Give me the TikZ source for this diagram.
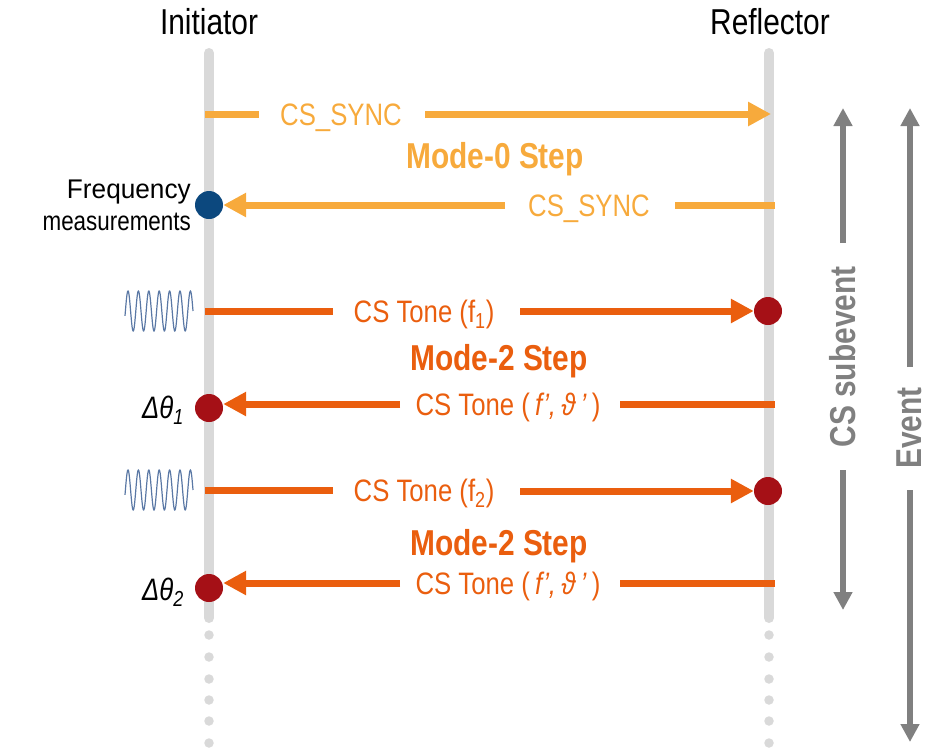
\documentclass[tikz,border=0pt]{standalone}
\usepackage{graphicx}
\usepackage{fontspec}
\setmainfont{Liberation Sans}[FakeStretch=0.83]
\usetikzlibrary{arrows.meta}
\definecolor{lorange}{RGB}{247,170,60}
\definecolor{dorange}{RGB}{234,94,14}
\definecolor{dotred}{RGB}{165,16,22}
\definecolor{dotblue}{RGB}{12,72,126}
\definecolor{lifegray}{RGB}{217,217,217}
\definecolor{arrgray}{RGB}{128,128,128}
\definecolor{wavecol}{RGB}{90,120,165}
\begin{document}
\begin{tikzpicture}[x=1pt,y=-1pt,
  lifeline/.style={draw=lifegray,line width=10pt,line cap=round},
  lifedot/.style={circle,fill=lifegray,inner sep=0pt,minimum size=9.5pt},
  syncline/.style={draw=lorange,line width=7pt},
  toneline/.style={draw=dorange,line width=7pt},
  tipend/.style={-{Triangle[length=23pt,width=23pt]}},
  gtip/.style={-{Triangle[length=18pt,width=18pt]}},
  garrow/.style={draw=arrgray,line width=6pt},
  synctxt/.style={text=lorange,font=\fontsize{31}{36}\selectfont,anchor=base,inner sep=0pt},
  tonetxt/.style={text=dorange,font=\fontsize{31}{36}\selectfont,anchor=base,inner sep=0pt},
  steptxt/.style={font=\bfseries\fontsize{36}{40}\selectfont,anchor=base,inner sep=0pt},
  titletxt/.style={font=\fontsize{36}{40}\selectfont,anchor=base,inner sep=0pt},
  sidetxt/.style={font=\bfseries\fontsize{36}{40}\selectfont,text=arrgray,rotate=90,inner sep=0pt},
  reddot/.style={circle,fill=dotred,inner sep=0pt,minimum size=28pt},
  bluedot/.style={circle,fill=dotblue,inner sep=0pt,minimum size=28pt},
  wave/.style={draw=wavecol,line width=1.2pt},
  lbl/.style={font=\fontsize{31}{34}\selectfont,inner sep=0pt}
]
\useasboundingbox (0,0) rectangle (932,748);

% titles
\node[titletxt] (ini) at (209,34) {Initiator};
\node[titletxt] (ref) at (770,34) {Reflector};

% lifelines
\coordinate (it) at (209,53);
\coordinate (ib) at (209,618);
\coordinate (rt) at (769,53);
\coordinate (rb) at (769,618);
\draw[lifeline] (it) -- (ib);
\draw[lifeline] (rt) -- (rb);
\foreach \yy [count=\k] in {635,657,679,700,721,743}{
  \node[lifedot] (idot\k) at (209,\yy) {};
  \node[lifedot] (rdot\k) at (769,\yy) {};
}

% dots
\node[bluedot] (bd) at (209,205) {};
\node[reddot] (r1) at (768,311) {};
\node[reddot] (d1) at (209,408) {};
\node[reddot] (r2) at (768,491) {};
\node[reddot] (d2) at (209,588) {};

% Mode-0 step
\coordinate (a1s) at (205,114);
\coordinate (a1g) at (259,114);
\coordinate (a1h) at (425,114);
\coordinate (a1e) at (771,114);
\draw[syncline] (a1s) -- (a1g);
\draw[syncline,tipend] (a1h) -- (a1e);
\node[synctxt] (t1) at (341,125) {CS\_SYNC};

\node[steptxt,text=lorange] (m0) at (495,168) {Mode-0 Step};

\coordinate (a3s) at (775,205);
\coordinate (a3g) at (675,205);
\coordinate (a3h) at (505,205);
\draw[syncline] (a3s) -- (a3g);
\draw[syncline,tipend] (a3h) -- (bd.east);
\node[synctxt] (t3) at (589,216) {CS\_SYNC};

\node[font=\fontsize{27}{32}\selectfont,align=right,anchor=east,inner sep=0pt] (fm) at (191,205) {\scalebox{1.17}[1]{Frequency}\\measurements};

% waves
\draw[wave] plot[domain=125:193,samples=240,smooth] (\x,{311-20*cos((\x-128)*34.615)});
\draw[wave] plot[domain=125:193,samples=240,smooth] (\x,{490-20*cos((\x-128)*34.615)});

% Mode-2 step 1
\coordinate (a5s) at (205,311);
\coordinate (a5g) at (333,311);
\coordinate (a5h) at (520,311);
\draw[toneline] (a5s) -- (a5g);
\draw[toneline,tipend] (a5h) -- (r1.west);
\node[tonetxt] (t5) at (424,322) {CS Tone (f\textsubscript{1})};

\node[steptxt,text=dorange] (m2a) at (499,370) {Mode-2 Step};

\coordinate (a7s) at (775,404);
\coordinate (a7g) at (620,404);
\coordinate (a7h) at (400,404);
\draw[toneline] (a7s) -- (a7g);
\draw[toneline,tipend] (a7h) -- (d1.east |- a7h);
\node[tonetxt] (t7) at (508,415) {CS Tone (\,\textit{f’,\,ϑ\,’}\,)};
\node[lbl,anchor=base east] (th1) at (184,418) {\textit{Δθ\textsubscript{1}}};

% Mode-2 step 2
\coordinate (a8s) at (205,490);
\coordinate (a8g) at (333,490);
\coordinate (a8h) at (520,491);
\draw[toneline] (a8s) -- (a8g);
\draw[toneline,tipend] (a8h) -- (r2.west);
\node[tonetxt] (t8) at (424,501) {CS Tone (f\textsubscript{2})};

\node[steptxt,text=dorange] (m2b) at (499,555) {Mode-2 Step};

\coordinate (a10s) at (775,583);
\coordinate (a10g) at (620,583);
\coordinate (a10h) at (400,583);
\draw[toneline] (a10s) -- (a10g);
\draw[toneline,tipend] (a10h) -- (d2.east |- a10h);
\node[tonetxt] (t10) at (508,594) {CS Tone (\,\textit{f’,\,ϑ\,’}\,)};
\node[lbl,anchor=base east] (th2) at (184,600) {\textit{Δθ\textsubscript{2}}};

% side arrows
\node[sidetxt] (cs) at (843,357) {CS subevent};
\coordinate (cst) at (843,108);
\coordinate (csa) at (843,243);
\coordinate (csb) at (843,470);
\coordinate (csd) at (843,610);
\draw[garrow,gtip] (csa) -- (cst);
\draw[garrow,gtip] (csb) -- (csd);

\node[sidetxt] (ev) at (909,428) {Event};
\coordinate (evt) at (910,108);
\coordinate (eva) at (910,367);
\coordinate (evb) at (910,490);
\coordinate (evd) at (910,742);
\draw[garrow,gtip] (eva) -- (evt);
\draw[garrow,gtip] (evb) -- (evd);
\end{tikzpicture}
\end{document}
